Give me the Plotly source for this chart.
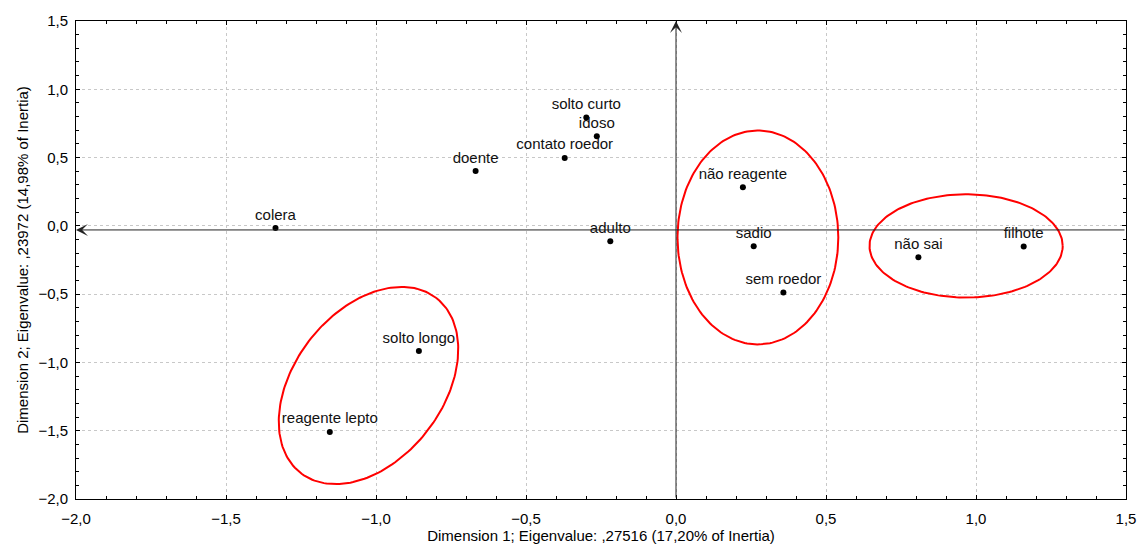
import numpy as np
import plotly.graph_objects as go

# Category points (Dimension 1, Dimension 2)
labels = ["colera", "doente", "contato roedor", "solto curto", "idoso", "adulto",
          "solto longo", "reagente lepto", "não reagente", "sadio", "sem roedor",
          "não sai", "filhote"]
dim1 = [-1.335, -0.668, -0.371, -0.299, -0.264, -0.219,
        -0.857, -1.154, 0.223, 0.259, 0.358, 0.808, 1.159]
dim2 = [-0.016, 0.401, 0.497, 0.793, 0.657, -0.113,
        -0.917, -1.509, 0.282, -0.149, -0.488, -0.229, -0.151]

x_ticks = [-2.0, -1.5, -1.0, -0.5, 0.0, 0.5, 1.0, 1.5]
y_ticks = [-2.0, -1.5, -1.0, -0.5, 0.0, 0.5, 1.0, 1.5]

x_title = "Dimension 1; Eigenvalue: ,27516 (17,20% of Inertia)"
y_title = "Dimension 2; Eigenvalue: ,23972 (14,98% of Inertia)"

# Group ellipses: center x, center y, semi-axis a (x units), semi-axis b (y units)
ell_cx = [0.273, 0.967]
ell_cy = [-0.085, -0.147]
ell_rx = [0.268, 0.322]
ell_ry = [0.783, 0.378]

# Tilted ellipse (defined in screen-proportional units)
tilt_cx, tilt_cy = -1.025, -1.169
tilt_a, tilt_b, tilt_deg = 111.4, 74.7, 52.6  # pixels on screen, degrees

W, H = 1148, 554
ML, MR, MT, MB = 76, 19, 18, 54
XR = [-2.0, 1.5]
YR = [-2.0, 1.5]
SX = (W - ML - MR) / (XR[1] - XR[0])
SY = (H - MT - MB) / (YR[1] - YR[0])

FONT = "Liberation Sans, Arial, sans-serif"

fig = go.Figure()

t = np.linspace(0, 2 * np.pi, 200)
for cx, cy, rx, ry in zip(ell_cx, ell_cy, ell_rx, ell_ry):
    fig.add_trace(go.Scatter(x=cx + rx * np.cos(t), y=cy + ry * np.sin(t),
                             mode="lines", line=dict(color="#ff0000", width=2),
                             hoverinfo="skip", showlegend=False))

th = np.radians(tilt_deg)
dxp = tilt_a * np.cos(th) * np.cos(t) - tilt_b * np.sin(th) * np.sin(t)
dyp = tilt_a * np.sin(th) * np.cos(t) + tilt_b * np.cos(th) * np.sin(t)
fig.add_trace(go.Scatter(x=tilt_cx + dxp / SX, y=tilt_cy + dyp / SY,
                         mode="lines", line=dict(color="#ff0000", width=2),
                         hoverinfo="skip", showlegend=False))

fig.add_trace(go.Scatter(x=dim1, y=dim2, mode="markers+text", text=labels,
                         textposition="top center",
                         textfont=dict(family=FONT, size=15, color="#111"),
                         marker=dict(color="black", size=6), showlegend=False))

# Axis arrows
fig.add_annotation(x=XR[0], y=-0.03, ax=XR[1], ay=-0.03, axref="x", ayref="y",
                   xref="x", yref="y", text="", showarrow=True, arrowhead=3,
                   arrowsize=2, arrowwidth=1, arrowcolor="#222")
fig.add_annotation(x=0, y=YR[1], ax=0, ay=YR[0], axref="x", ayref="y",
                   xref="x", yref="y", text="", showarrow=True, arrowhead=3,
                   arrowsize=2, arrowwidth=1, arrowcolor="#222")

axis_common = dict(
    showline=True, linecolor="black", linewidth=1, mirror="allticks",
    ticks="inside", ticklen=4, tickcolor="black",
    showgrid=True, gridcolor="#c8c8c8", griddash="3px,3px", gridwidth=1,
    zeroline=False, tickformat=".1f",
    tickfont=dict(family=FONT, size=15, color="black"),
    minor=dict(ticks="inside", ticklen=3, dtick=0.1, tickcolor="black", showgrid=False),
)

fig.update_layout(
    width=W, height=H,
    margin=dict(l=ML, r=MR, t=MT, b=MB),
    plot_bgcolor="white", paper_bgcolor="white",
    separators=",.",
    xaxis=dict(range=XR, tickvals=x_ticks, ticklabelstandoff=6, **axis_common,
               title=dict(text=x_title, standoff=4,
                          font=dict(family=FONT, size=15, color="black"))),
    yaxis=dict(range=YR, tickvals=y_ticks, ticklabelstandoff=4, **axis_common,
               title=dict(text=y_title, standoff=6,
                          font=dict(family=FONT, size=15, color="black"))),
)

fig.write_html("out.html")
